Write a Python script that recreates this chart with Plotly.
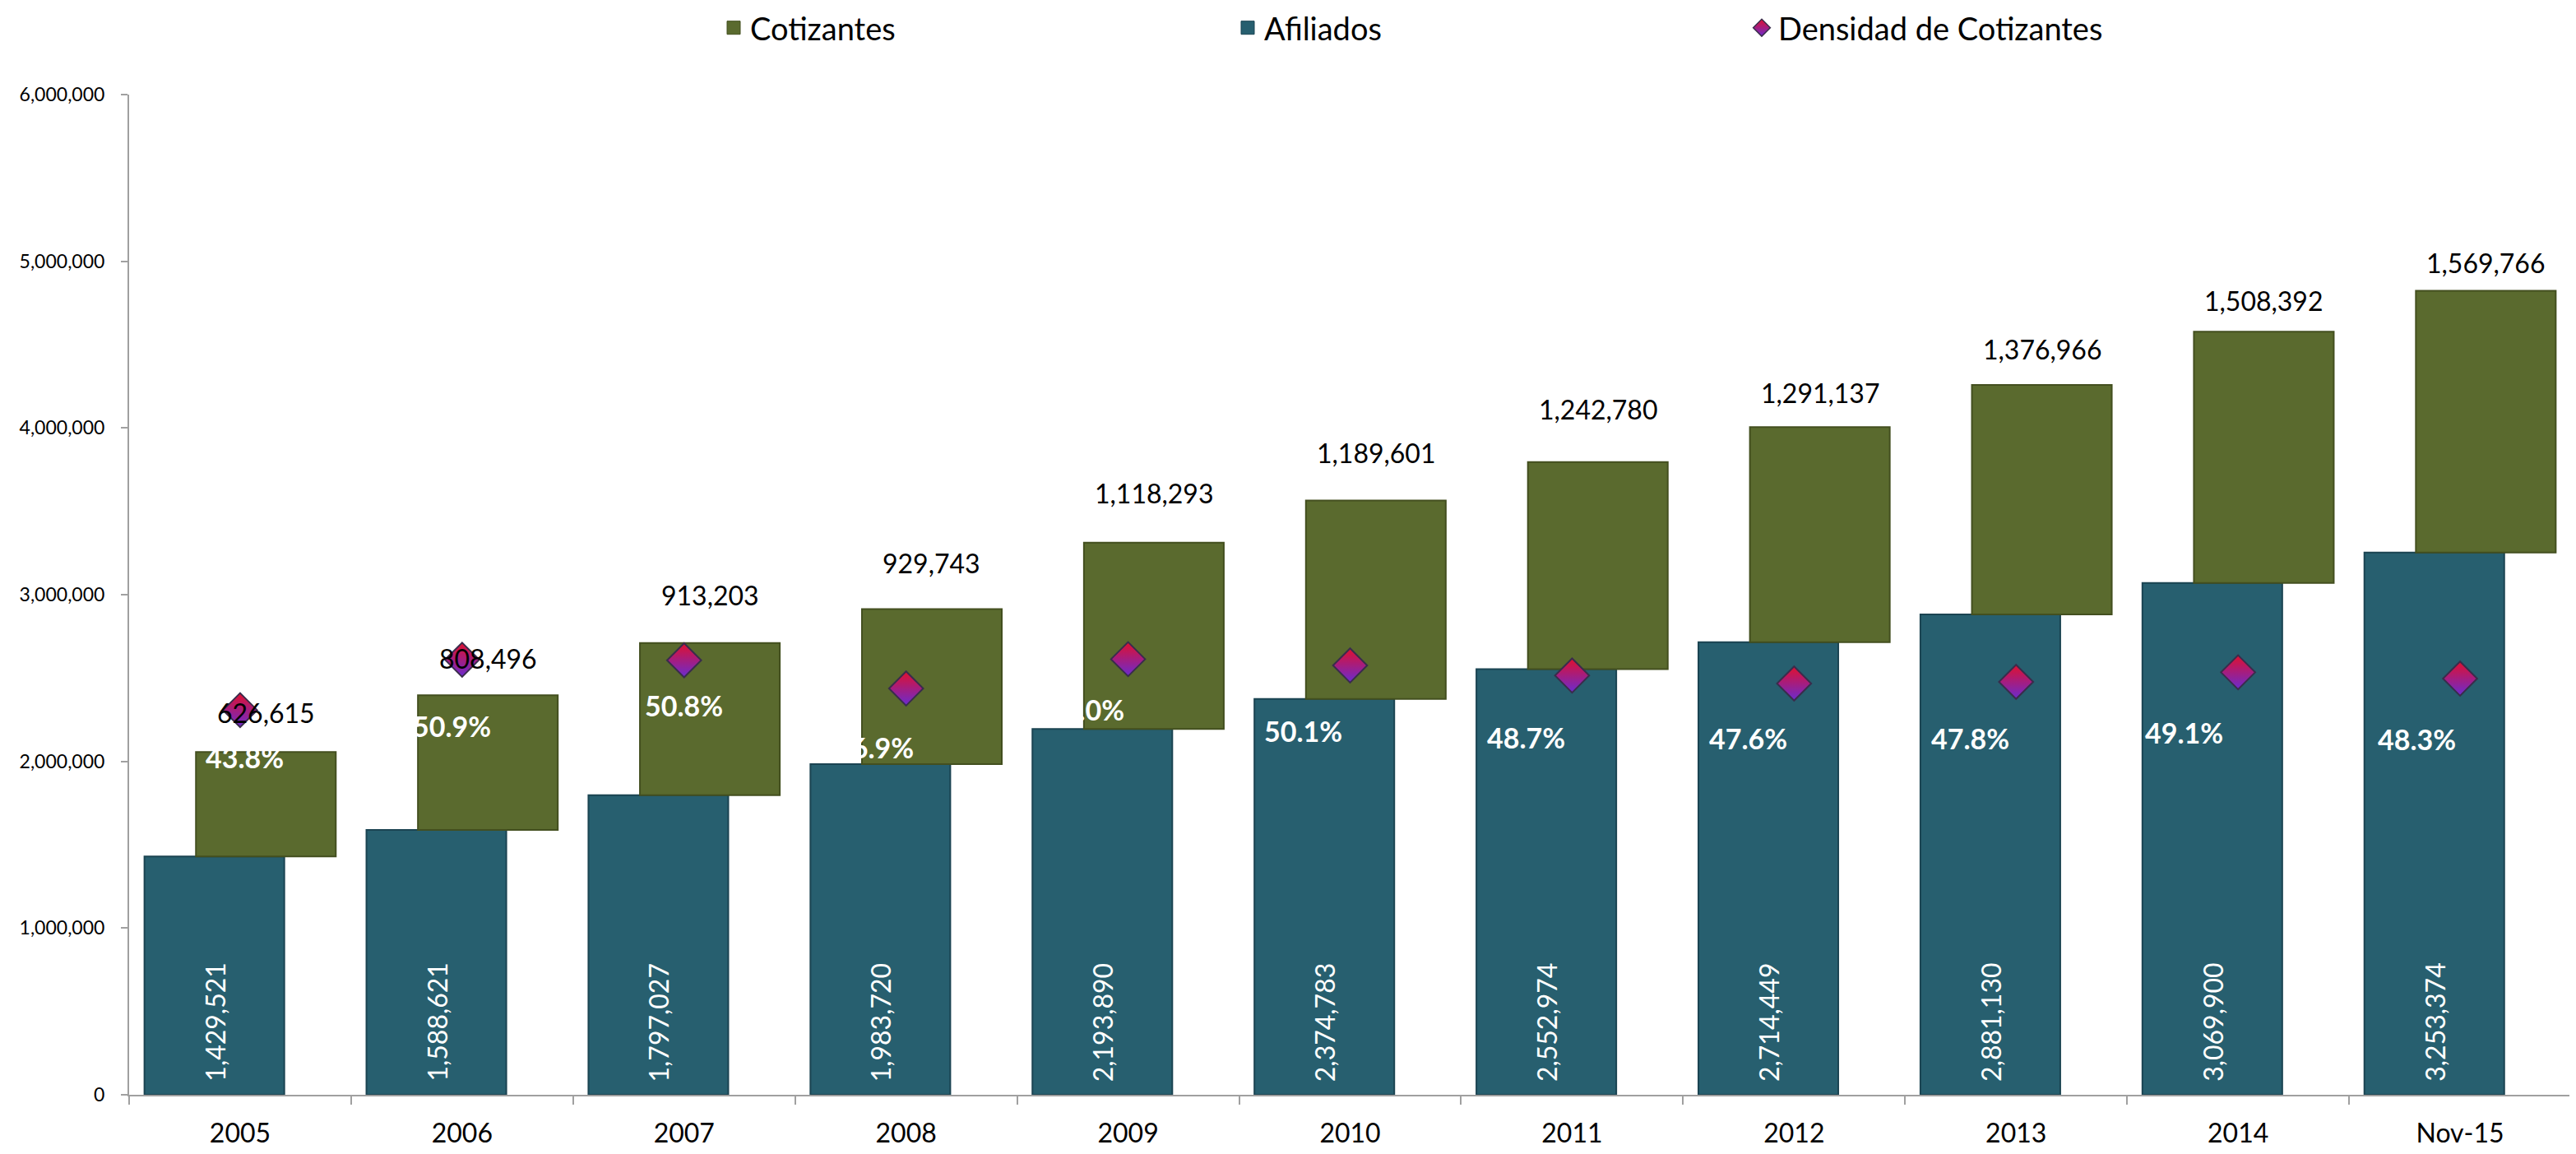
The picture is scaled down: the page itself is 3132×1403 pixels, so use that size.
import plotly.graph_objects as go

# ---------------- data ----------------
categories = ["2005", "2006", "2007", "2008", "2009", "2010",
              "2011", "2012", "2013", "2014", "Nov-15"]
afiliados = [1429521, 1588621, 1797027, 1983720, 2193890, 2374783,
             2552974, 2714449, 2881130, 3069900, 3253374]
cotizantes = [626615, 808496, 913203, 929743, 1118293, 1189601,
              1242780, 1291137, 1376966, 1508392, 1569766]
densidad = [c / a for c, a in zip(cotizantes, afiliados)]

# ---------------- label placement tuning (pixels) ----------------
dens_label_dx = [6, -12, 0, -38, -52, -57, -56, -56, -56, -66, -53]
dens_label_dy = [57, 80, 55, 71, 61, 79, 75, 66, 68, 73, 73]
cot_label_gap = [48, 45, 58, 56, 60, 58, 64, 42, 44, 38, 34]

FONT = "Lato, Carlito, Calibri, 'Open Sans', sans-serif"
TEAL = "#275F6F"
TEAL_EDGE = "#1B4452"
GREEN = "#5A6A2E"
GREEN_EDGE = "#434F1F"
AXIS = "#A0A0A0"

W, H = 3124, 1395          # page adds an 8px body margin around the figure
ML, MR, MT, MB = 149, 6, 107, 72
PLOT_W = W - ML - MR
PLOT_H = H - MT - MB

BAR_W = 0.63
AFI_OFF = -0.431
COT_OFF = -0.199
PX_PER_CAT = PLOT_W / float(len(categories))
COT_SHIFT = (COT_OFF + BAR_W / 2) * PX_PER_CAT
AFI_SHIFT = (AFI_OFF + BAR_W / 2) * PX_PER_CAT

fig = go.Figure()

fig.add_trace(go.Bar(
    name="Afiliados", x=categories, y=afiliados,
    width=BAR_W, offset=AFI_OFF,
    marker=dict(color=TEAL, line=dict(color=TEAL_EDGE, width=2)),
    showlegend=False,
))

fig.add_trace(go.Bar(
    name="Cotizantes", x=categories, y=cotizantes, base=afiliados,
    width=BAR_W, offset=COT_OFF,
    marker=dict(color=GREEN, line=dict(color=GREEN_EDGE, width=2)),
    showlegend=False,
))

fig.add_trace(go.Scatter(
    name="Densidad de Cotizantes", x=categories, y=densidad, yaxis="y2",
    mode="markers",
    marker=dict(symbol="diamond", size=32, color="#E0102E",
                gradient=dict(type="vertical", color="#6A2BD0"),
                line=dict(color="#3A2C4C", width=2)),
    showlegend=False,
))

# legend-only entries
fig.add_trace(go.Scatter(name="Cotizantes", x=[None], y=[None], mode="markers",
                         marker=dict(symbol="square", size=24, color=GREEN,
                                     line=dict(color=GREEN_EDGE, width=1)),
                         legendrank=1))
fig.add_trace(go.Scatter(name="Afiliados", x=[None], y=[None], mode="markers",
                         marker=dict(symbol="square", size=24, color=TEAL,
                                     line=dict(color=TEAL_EDGE, width=1)),
                         legendrank=2))
fig.add_trace(go.Scatter(name="Densidad de Cotizantes", x=[None], y=[None], mode="markers",
                         marker=dict(symbol="diamond", size=22, color="#E0102E",
                                     gradient=dict(type="vertical", color="#6A2BD0"),
                                     line=dict(color="#3A2C4C", width=1.5)),
                         legendrank=3))

annotations = []
for i, cat in enumerate(categories):
    # afiliados value, rotated, at the base of the teal bar
    annotations.append(dict(
        x=i, y=0, xref="x", yref="y",
        text=f"{afiliados[i]:,}", showarrow=False, textangle=-90,
        xanchor="center", yanchor="bottom",
        xshift=AFI_SHIFT, yshift=14,
        font=dict(family=FONT, size=32, color="white"),
    ))
    annotations.append(dict(
        x=i, y=afiliados[i] + cotizantes[i], xref="x", yref="y",
        text=f"{cotizantes[i]:,}", showarrow=False,
        xanchor="center", yanchor="middle",
        xshift=COT_SHIFT, yshift=cot_label_gap[i],
        font=dict(family=FONT, size=32, color="black"),
    ))
    annotations.append(dict(
        x=i, y=densidad[i], xref="x", yref="y2",
        text=f"{densidad[i]*100:.1f}%", showarrow=False,
        xanchor="center", yanchor="middle",
        xshift=dens_label_dx[i], yshift=-dens_label_dy[i],
        font=dict(family=FONT, size=34, color="white", weight="bold"),
    ))

fig.update_layout(
    width=W, height=H,
    margin=dict(l=ML, r=MR, t=MT, b=MB, autoexpand=False),
    paper_bgcolor="white", plot_bgcolor="white",
    barmode="overlay",
    font=dict(family=FONT, color="black"),
    annotations=annotations,
    legend=dict(orientation="h", x=(864 - ML) / float(PLOT_W), xanchor="left",
                y=1 + (MT - 26) / float(PLOT_H), yanchor="middle",
                font=dict(family=FONT, size=38, color="black"),
                entrywidth=580, entrywidthmode="pixels",
                itemsizing="trace", bgcolor="rgba(0,0,0,0)"),
    xaxis=dict(
        type="category", categoryorder="array", categoryarray=categories,
        range=[-0.5, len(categories) - 0.5], autorange=False,
        showgrid=False, showline=True, linecolor=AXIS, linewidth=2,
        ticks="outside", tickson="boundaries", ticklen=10, tickcolor=AXIS, tickwidth=2,
        tickfont=dict(family=FONT, size=32, color="black"), tickangle=0,
        ticklabelstandoff=18,
    ),
    yaxis=dict(
        range=[0, 6000000], dtick=1000000, tickformat=",", showgrid=False,
        showline=True, linecolor=AXIS, linewidth=2, zeroline=False,
        ticks="outside", ticklen=8, tickcolor=AXIS, tickwidth=2,
        tickfont=dict(family=FONT, size=23, color="black"),
        ticklabelstandoff=15,
    ),
    yaxis2=dict(
        overlaying="y", side="right", range=[-0.1, 1.3], tick0=-0.1, dtick=0.2,
        showgrid=False, showline=True, linecolor=AXIS, linewidth=2, zeroline=False,
        ticks="outside", ticklen=8, tickcolor=AXIS, tickwidth=2,
        showticklabels=False,
    ),
)

fig.write_html("out.html")
